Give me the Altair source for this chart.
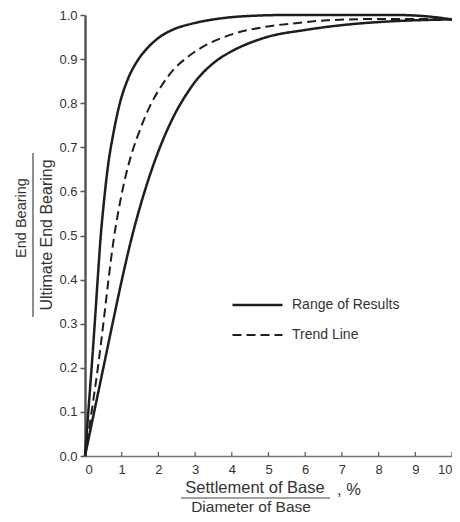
import altair as alt
import pandas as pd

# ---- data ----
upper_x = [0, 0.09, 0.18, 0.265, 0.345, 0.43, 0.52, 0.63, 0.77, 0.95, 1.17, 1.42, 1.7, 2.0, 2.4, 2.9, 3.5, 4.3, 5.5, 7.0, 8.5, 9.3, 10]
upper_y = [0, 0.10, 0.20, 0.30, 0.40, 0.50, 0.58, 0.66, 0.73, 0.80, 0.855, 0.895, 0.925, 0.948, 0.967, 0.98, 0.99, 0.997, 1.0, 1.0, 1.0, 0.997, 0.99]

trend_x = [0, 0.18, 0.35, 0.50, 0.64, 0.78, 0.92, 1.08, 1.27, 1.5, 1.75, 2.05, 2.4, 2.8, 3.3, 4.0, 4.9, 5.8, 6.6, 8.0, 9.0, 10]
trend_y = [0, 0.10, 0.20, 0.30, 0.40, 0.49, 0.56, 0.625, 0.685, 0.74, 0.79, 0.835, 0.875, 0.905, 0.932, 0.956, 0.973, 0.982, 0.988, 0.991, 0.991, 0.99]

lower_x = [0, 0.25, 0.5, 0.75, 1.0, 1.25, 1.5, 1.75, 2.0, 2.25, 2.5, 2.75, 3.0, 3.5, 4.0, 4.5, 5.0, 6.0, 7.0, 8.0, 9.0, 10]
lower_y = [0, 0.10, 0.20, 0.30, 0.3975, 0.4875, 0.565, 0.6325, 0.691, 0.741, 0.7835, 0.8185, 0.8485, 0.891, 0.918, 0.937, 0.951, 0.966, 0.977, 0.984, 0.988, 0.99]

series_names = ["Range of Results", "Trend Line"]
x_ticks = [0, 1, 2, 3, 4, 5, 6, 7, 8, 9, 10]
y_ticks = [0.0, 0.1, 0.2, 0.3, 0.4, 0.5, 0.6, 0.7, 0.8, 0.9, 1.0]

rows = []
for cid, kind, xs, ys in [("upper", series_names[0], upper_x, upper_y),
                          ("trend", series_names[1], trend_x, trend_y),
                          ("lower", series_names[0], lower_x, lower_y)]:
    for i, (a, b) in enumerate(zip(xs, ys)):
        rows.append({"curve": cid, "kind": kind, "x": a, "y": b, "order": i})
df = pd.DataFrame(rows)

W, H = 367, 441
FONT = "Liberation Sans"
INK = "#1e1e1e"
TXT = "#333333"

xscale = alt.Scale(domain=[0, 10], nice=False)
yscale = alt.Scale(domain=[0, 1], nice=False)
x_axis = alt.Axis(values=x_ticks, format="d", title=None, tickSize=0, labelPadding=7,
                  domainColor="#777777", domainWidth=1.5, grid=False, labelFontSize=13,
                  labelColor=TXT, labelFont=FONT)

lines = alt.Chart(df).mark_line(interpolate="monotone", color=INK, strokeCap="butt").encode(
    x=alt.X("x:Q", scale=xscale, axis=x_axis),
    y=alt.Y("y:Q", scale=yscale, axis=alt.Axis(
        values=y_ticks, format=".1f", title=None, tickSize=5, tickColor="#555555",
        tickWidth=1.5, labelPadding=3, domainColor="#555555", domainWidth=2.5,
        grid=False, labelFontSize=13, labelColor=TXT, labelFont=FONT)),
    strokeDash=alt.StrokeDash("kind:N", scale=alt.Scale(domain=series_names, range=[[1, 0], [9, 5]]),
        legend=alt.Legend(title=None, orient="none", legendX=146, legendY=283,
                          symbolType="stroke", symbolSize=2500, symbolStrokeWidth=3,
                          symbolStrokeColor=INK, labelFontSize=14, labelFont=FONT,
                          labelColor=TXT, labelOffset=8, clipHeight=14, rowPadding=16,
                          padding=0)),
    strokeWidth=alt.StrokeWidth("kind:N", scale=alt.Scale(domain=series_names, range=[2.5, 2.0]), legend=None),
    detail="curve:N",
    order="order:Q",
)

tick_df = pd.DataFrame({"t": x_ticks[1:]})
ticks = alt.Chart(tick_df).mark_rule(color="#555555", strokeWidth=1.2).encode(
    x=alt.X("t:Q", scale=xscale, axis=x_axis),
    y=alt.value(H), y2=alt.value(H - 4),
)

def label(txt, x, y, size, angle=0):
    return alt.Chart(alt.Data(values=[{}])).mark_text(
        text=txt, font=FONT, fontSize=size, color=TXT, angle=angle,
        align="center", baseline="middle").encode(x=alt.value(x), y=alt.value(y))

blank = alt.Data(values=[{}])
frac_line = alt.Chart(blank).mark_rule(color="#444444", strokeWidth=1.2).encode(
    x=alt.value(-52), y=alt.value(138), y2=alt.value(302))
under_line = alt.Chart(blank).mark_rule(color="#444444", strokeWidth=1.2).encode(
    x=alt.value(96), x2=alt.value(245), y=alt.value(483))

chart = alt.layer(
    lines, ticks,
    label("End Bearing", -63, 203, 14.5, 270),
    label("Ultimate End Bearing", -38, 220, 16, 270),
    frac_line,
    label("Settlement of Base", 170, 473, 16.5),
    under_line,
    label(", %", 264, 475, 16.5),
    label("Diameter of Base", 166, 492, 15.5),
).properties(
    width=W, height=H,
    padding={"left": 77, "top": 7, "right": 0, "bottom": 58},
    autosize="none",
    background="white",
).configure_view(stroke=None)

chart.save("out.html", embed_options={"renderer": "svg", "actions": False})
